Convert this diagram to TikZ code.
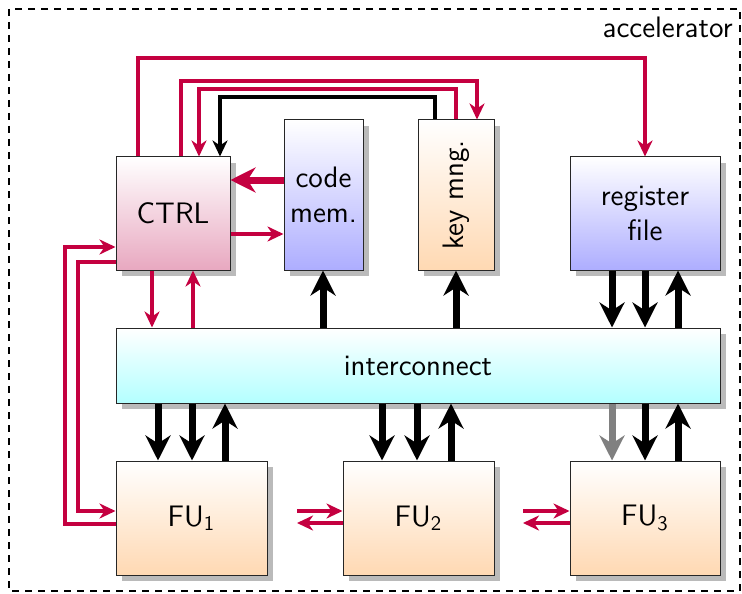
\documentclass[tikz,border=0pt]{standalone}
\usepackage{graphicx}
\usetikzlibrary{arrows.meta,shadows}
\definecolor{mag}{RGB}{196,0,64}
\definecolor{ctrlpink}{RGB}{232,168,192}
\tikzset{
  box/.style={draw=black!85, line width=0.5pt, inner sep=0pt, align=center,
    font=\sffamily\fontsize{14.8}{17.5}\selectfont,
    drop shadow={shadow xshift=3pt, shadow yshift=-3pt, fill=black!27, opacity=1}},
  marrow/.style={draw=mag, line width=1.6pt, -{Stealth[length=8pt,width=7.5pt,inset=2.5pt]}},
  thinblack/.style={draw=black, line width=1.6pt, -{Stealth[length=8pt,width=7.5pt,inset=2.5pt]}},
  bigmag/.style={draw=mag, line width=3.5pt, -{Stealth[length=12.5pt,width=12.5pt,inset=4pt]}},
  barrow/.style={draw=black, line width=3.5pt, -{Stealth[length=12.5pt,width=12.5pt,inset=4pt]}},
  garrow/.style={draw=black!50, line width=3.5pt, -{Stealth[length=12.5pt,width=12.5pt,inset=4pt]}},
}
\begin{document}
\begin{tikzpicture}[x=0.5pt,y=-0.5pt]
\useasboundingbox (0,0) rectangle (742,593);
% outer frame
\draw[dashed, line width=0.8pt, dash pattern=on 3.5pt off 3pt] (9,9) rectangle (740,591);
\node[anchor=base east, font=\sffamily\fontsize{14.8}{17.5}\selectfont, inner sep=0pt] (acc) at (733,38) {accelerator};

% boxes
\node[box, minimum width=57pt, minimum height=56.5pt, top color=white, bottom color=ctrlpink] (ctrl) at (173,213.5) {CTRL};
\node[box, minimum width=39.5pt, minimum height=75pt, top color=white, bottom color=blue!32] (code) at (323.5,195) {code\\mem.};
\node[box, minimum width=38pt, minimum height=75pt, top color=white, bottom color=orange!30] (key) at (456,195) {\rotatebox{90}{key mng.}};
\node[box, minimum width=75pt, minimum height=56.5pt, top color=white, bottom color=blue!32] (reg) at (645,213.5) {register\\file};
\node[box, minimum width=302pt, minimum height=37.5pt, top color=white, bottom color=cyan!30] (inter) at (418,365.5) {interconnect};
\node[box, minimum width=75.5pt, minimum height=57pt, top color=white, bottom color=orange!30] (fu1) at (191.5,518) {FU\textsubscript{1}};
\node[box, minimum width=75.5pt, minimum height=57pt, top color=white, bottom color=orange!30] (fu2) at (418.5,518) {FU\textsubscript{2}};
\node[box, minimum width=75pt, minimum height=57pt, top color=white, bottom color=orange!30] (fu3) at (645,518) {FU\textsubscript{3}};

% top control loops
\coordinate (t1) at (138,58);
\draw[marrow] (ctrl.north -| t1) -- (t1) -| (reg.north);
\coordinate (t2) at (181,81); \coordinate (t2e) at (477,81);
\draw[marrow] (ctrl.north -| t2) -- (t2) -- (t2e) -- (key.north -| t2e);
\coordinate (t3) at (456,89); \coordinate (t3e) at (199,89);
\draw[marrow] (key.north -| t3) -- (t3) -- (t3e) -- (ctrl.north -| t3e);
\coordinate (t4) at (435,97); \coordinate (t4e) at (220,97);
\draw[thinblack] (key.north -| t4) -- (t4) -- (t4e) -- (ctrl.north -| t4e);

% ctrl <-> code mem
\coordinate (y1) at (0,180); \coordinate (y2) at (0,234);
\draw[bigmag] (code.west |- y1) -- (ctrl.east |- y1);
\draw[marrow] (ctrl.east |- y2) -- (code.west |- y2);

% ctrl <-> interconnect
\coordinate (x1) at (152,0); \coordinate (x2) at (193,0);
\draw[marrow] (ctrl.south -| x1) -- (inter.north -| x1);
\draw[marrow] (inter.north -| x2) -- (ctrl.south -| x2);

% left loops ctrl <-> FU1
\coordinate (l1) at (65,247); \coordinate (l1b) at (65,524);
\draw[marrow] (fu1.west |- l1b) -- (l1b) -- (l1) -- (ctrl.west |- l1);
\coordinate (l2) at (78,262); \coordinate (l2b) at (78,511);
\draw[marrow] (ctrl.west |- l2) -- (l2) -- (l2b) -- (fu1.west |- l2b);

% FU chain
\coordinate (m1) at (297,511); \coordinate (m2) at (297,523);
\draw[marrow] (m1) -- (fu2.west |- m1);
\draw[marrow] (fu2.west |- m2) -- (m2);
\coordinate (n1) at (523,511); \coordinate (n2) at (523,523);
\draw[marrow] (n1) -- (fu3.west |- n1);
\draw[marrow] (fu3.west |- n2) -- (n2);

% interconnect -> memories
\coordinate (c1) at (323,0); \coordinate (c2) at (456,0);
\draw[barrow] (inter.north -| c1) -- (code.south -| c1);
\draw[barrow] (inter.north -| c2) -- (key.south -| c2);

% register file <-> interconnect
\coordinate (r1) at (612,0); \coordinate (r2) at (645,0); \coordinate (r3) at (678,0);
\draw[barrow] (reg.south -| r1) -- (inter.north -| r1);
\draw[barrow] (reg.south -| r2) -- (inter.north -| r2);
\draw[barrow] (inter.north -| r3) -- (reg.south -| r3);

% interconnect <-> FUs
\coordinate (a1) at (158,0); \coordinate (a2) at (192,0); \coordinate (a3) at (225,0);
\draw[barrow] (inter.south -| a1) -- (fu1.north -| a1);
\draw[barrow] (inter.south -| a2) -- (fu1.north -| a2);
\draw[barrow] (fu1.north -| a3) -- (inter.south -| a3);
\coordinate (b1) at (382,0); \coordinate (b2) at (417,0); \coordinate (b3) at (451,0);
\draw[barrow] (inter.south -| b1) -- (fu2.north -| b1);
\draw[barrow] (inter.south -| b2) -- (fu2.north -| b2);
\draw[barrow] (fu2.north -| b3) -- (inter.south -| b3);
\coordinate (d1) at (612,0); \coordinate (d2) at (645,0); \coordinate (d3) at (678,0);
\draw[garrow] (inter.south -| d1) -- (fu3.north -| d1);
\draw[barrow] (inter.south -| d2) -- (fu3.north -| d2);
\draw[barrow] (fu3.north -| d3) -- (inter.south -| d3);
\end{tikzpicture}
\end{document}
